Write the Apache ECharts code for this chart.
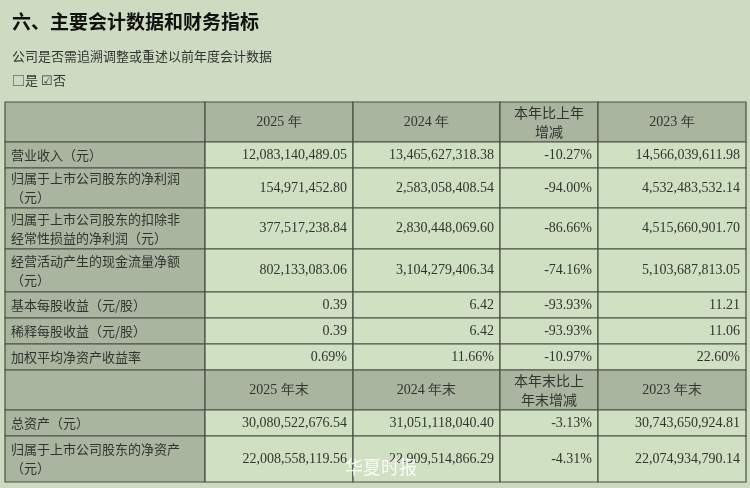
<!DOCTYPE html>
<head>
<meta charset="utf-8">
<title>主要会计数据和财务指标</title>
<script src="https://cdn.jsdelivr.net/npm/echarts@6/dist/echarts.min.js"></script>
<style>html,body{margin:0;background:#cddcc1;}</style>
</head>
<body>
<div id="main" style="width:750px;height:488px;"></div>
<script>
// 表格数据
var headers1 = ['', '2025 年', '2024 年', '本年比上年\n增减', '2023 年'];
var rowLabels1 = ['营业收入（元）', '归属于上市公司股东的净利润\n（元）', '归属于上市公司股东的扣除非\n经常性损益的净利润（元）', '经营活动产生的现金流量净额\n（元）', '基本每股收益（元/股）', '稀释每股收益（元/股）', '加权平均净资产收益率'];
var y2025 = ['12,083,140,489.05', '154,971,452.80', '377,517,238.84', '802,133,083.06', '0.39', '0.39', '0.69%'];
var y2024 = ['13,465,627,318.38', '2,583,058,408.54', '2,830,448,069.60', '3,104,279,406.34', '6.42', '6.42', '11.66%'];
var yChange = ['-10.27%', '-94.00%', '-86.66%', '-74.16%', '-93.93%', '-93.93%', '-10.97%'];
var y2023 = ['14,566,039,611.98', '4,532,483,532.14', '4,515,660,901.70', '5,103,687,813.05', '11.21', '11.06', '22.60%'];
var headers2 = ['', '2025 年末', '2024 年末', '本年末比上\n年末增减', '2023 年末'];
var rowLabels2 = ['总资产（元）', '归属于上市公司股东的净资产\n（元）'];
var e2025 = ['30,080,522,676.54', '22,008,558,119.56'];
var e2024 = ['31,051,118,040.40', '22,909,514,866.29'];
var eChange = ['-3.13%', '-4.31%'];
var e2023 = ['30,743,650,924.81', '22,074,934,790.14'];

var colX = [5, 205, 353, 500, 598, 746];
var rowsY1 = [102, 142, 168, 208, 249, 292, 318, 344, 370];
var rowsY2 = [370, 410, 436, 482];
var dark = '#a9b59e', light = '#d0e0c3', line = '#4a4f46';
var cjk = '"Noto Sans CJK SC", sans-serif';
var num = '"Liberation Serif", "DejaVu Serif", serif';
var els = [];

function cell(c, y0, y1, fill, txt, align, font, size) {
    var x0 = colX[c], x1 = colX[c + 1];
    els.push({ type: 'rect', shape: { x: x0, y: y0, width: x1 - x0, height: y1 - y0 },
        style: { fill: fill, stroke: line, lineWidth: 1.2 } });
    if (!txt) return;
    var tx = align === 'left' ? x0 + 6 : (align === 'right' ? x1 - 6 : (x0 + x1) / 2);
    els.push({ type: 'text', x: tx, y: (y0 + y1) / 2,
        style: { text: txt, align: align, verticalAlign: 'middle', fill: '#333',
            font: (size || 13) + 'px ' + font, lineHeight: 19 } });
}

function table(headers, rowsY, labels, cols) {
    for (var c = 0; c < 5; c++) cell(c, rowsY[0], rowsY[1], dark, headers[c], 'center', c == 3 ? cjk : num, 14);
    for (var r = 0; r < labels.length; r++) {
        cell(0, rowsY[r + 1], rowsY[r + 2], dark, labels[r], 'left', cjk, 13);
        for (var k = 0; k < 4; k++) cell(k + 1, rowsY[r + 1], rowsY[r + 2], light, cols[k][r], 'right', num, 14);
    }
}
table(headers1, rowsY1, rowLabels1, [y2025, y2024, yChange, y2023]);
table(headers2, rowsY2, rowLabels2, [e2025, e2024, eChange, e2023]);

els.push({ type: 'text', x: 12, y: 12, style: { text: '六、主要会计数据和财务指标', fill: '#111', font: 'bold 19px ' + cjk } });
els.push({ type: 'text', x: 12, y: 50, style: { text: '公司是否需追溯调整或重述以前年度会计数据', fill: '#333', font: '13px ' + cjk } });
els.push({ type: 'text', x: 12, y: 74, style: { text: '□是 ☑否', fill: '#333', font: '13px ' + cjk } });
els.push({ type: 'text', x: 345, y: 458, style: { text: '华夏时报', fill: 'rgba(255,255,255,0.85)', font: '18px ' + cjk } });

var myChart = echarts.init(document.getElementById('main'));
myChart.setOption({ backgroundColor: '#cddcc1', animation: false, graphic: { elements: els } });
</script>
</body>
